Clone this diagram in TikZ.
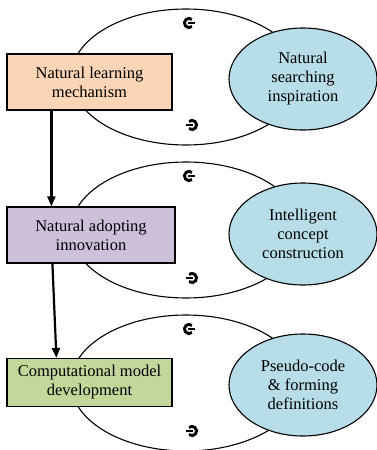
\documentclass[tikz,border=0pt]{standalone}
\usepackage{fontspec}
\setmainfont{Liberation Serif}
\usetikzlibrary{shapes.geometric, arrows.meta}
\definecolor{orangebox}{RGB}{251,213,181}
\definecolor{lilabox}{RGB}{204,192,218}
\definecolor{gruenbox}{RGB}{196,215,155}
\definecolor{blauoval}{RGB}{183,222,232}
\tikzset{
    kasten/.style={draw, line width=1.2pt, minimum height=56pt, align=center,
        inner sep=2pt, font=\fontsize{16.5}{19}\selectfont},
    oval/.style={ellipse, draw, line width=1.1pt, fill=blauoval, minimum width=148pt,
        minimum height=102pt, inner sep=0pt, align=center, font=\fontsize{16.5}{19}\selectfont},
    pfeil/.style={line width=2.2pt, -{Triangle[length=10pt, width=8pt]}},
    zeichen/.style={line width=2.9pt}
}

\begin{document}
\begin{tikzpicture}[x=1pt, y=-1pt]
\useasboundingbox (0,0) rectangle (377,450);

% Halbachsen der grossen Ellipsen
\def\a{115}
\def\b{68}
\def\r{4.6}

% Grosse Ellipsen mit Kreiszeichen
\foreach \y in {77, 230, 383} {
    \draw[line width=1.1pt] (186,\y) ellipse ({\a} and {\b});
    % oben
    \draw[zeichen] ([shift={(189,\y-54)}]50:\r) arc (50:310:\r);
    \draw[zeichen] (188,\y-54) -- (195,\y-54);
    % unten
    \draw[zeichen] ([shift={(192,\y+48)}]130:\r) arc (130:-130:\r);
    \draw[zeichen] (193,\y+48) -- (186,\y+48);
}

% Kaesten links
\node[kasten, fill=orangebox, minimum width=165pt] (lernen) at (89.5,82) {Natural learning\\mechanism};
\node[kasten, fill=lilabox, minimum width=168pt] (adapt) at (91,235) {Natural adopting\\innovation};
\node[kasten, fill=gruenbox, minimum width=165pt, minimum height=48pt] (modell) at (89.5,382.5) {Computational model\\development};

% Ovale rechts
\node[oval] (suche) at (303,79) {Natural\\searching\\inspiration};
\node[oval] (konzept) at (303,234) {Intelligent\\concept\\construction};
\node[oval] (pseudo) at (303,385) {Pseudo-code\\\& forming\\definitions};

% Pfeile
\draw[pfeil] ([xshift=45pt]lernen.south west) -- ([xshift=45pt]adapt.north west);
\draw[pfeil] ([xshift=46pt]adapt.south west) -- ([xshift=50pt]modell.north west);
\end{tikzpicture}
\end{document}
